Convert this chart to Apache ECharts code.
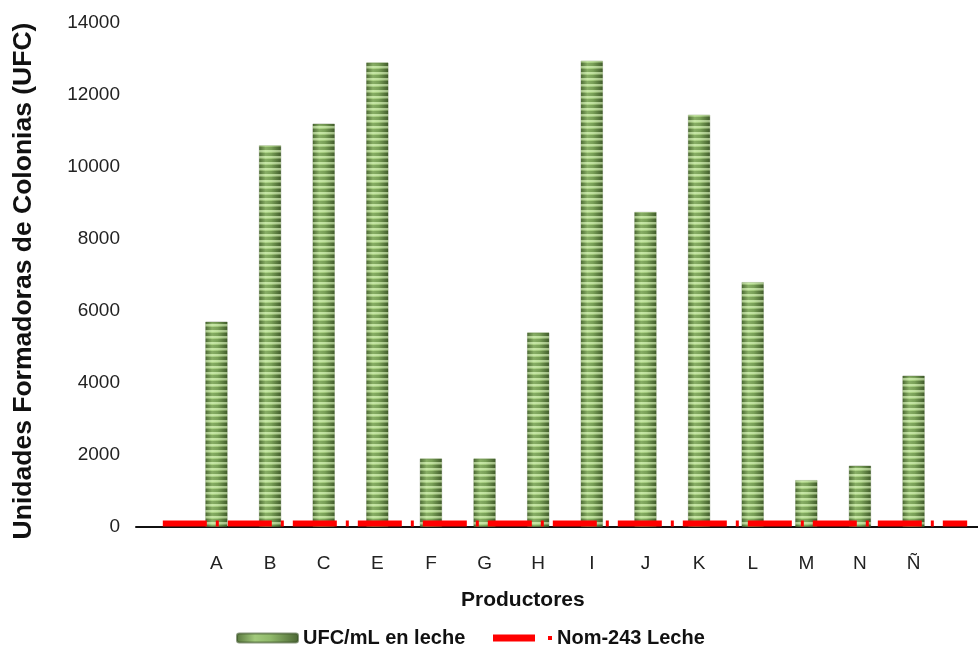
<!DOCTYPE html>
<html>
<head>
<meta charset="utf-8">
<script src="https://cdn.jsdelivr.net/npm/echarts@6/dist/echarts.min.js"></script>
<style>
  html, body { margin: 0; padding: 0; background: #ffffff; overflow: hidden; }
  #chart { width: 994px; height: 652px; }
</style>
</head>
<body>
<div id="chart"></div>
<script>
// Producers (empty slots pad both ends of the axis)
var productores = ['', 'A', 'B', 'C', 'E', 'F', 'G', 'H', 'I', 'J', 'K', 'L', 'M', 'N', 'Ñ', ''];
// Colony forming units per mL of milk for each producer
var ufcLeche = [null, 5700, 10600, 11200, 12900, 1900, 1900, 5400, 12950, 8750, 11450, 6800, 1300, 1700, 4200, null];
// NOM-243 reference limit for milk
var nom243 = [100, 100, 100, 100, 100, 100, 100, 100, 100, 100, 100, 100, 100, 100, 100, 100];
// Y axis scale
var yMin = 0, yMax = 14000, yStep = 2000;

var FONT = '"Liberation Sans", Arial, sans-serif';

// Horizontal stripe texture laid over the bars
function stripeCanvas() {
  var c = document.createElement('canvas');
  c.width = 8; c.height = 6;
  var g = c.getContext('2d');
  g.fillStyle = 'rgba(230,255,200,0.55)';
  g.fillRect(0, 0, 8, 2);
  g.fillStyle = 'rgba(210,245,170,0.25)';
  g.fillRect(0, 2, 8, 1);
  g.fillStyle = 'rgba(30,60,10,0.20)';
  g.fillRect(0, 3, 8, 3);
  return c;
}

var barGradient = {
  type: 'linear', x: 0, y: 0, x2: 1, y2: 0,
  colorStops: [
    { offset: 0, color: '#58763e' },
    { offset: 0.3, color: '#a2ca7c' },
    { offset: 0.55, color: '#90b96b' },
    { offset: 1, color: '#4a6533' }
  ]
};

var chart = echarts.init(document.getElementById('chart'), null, { renderer: 'canvas' });

chart.setOption({
  backgroundColor: '#ffffff',
  animation: false,
  grid: { left: 136, top: 23, right: 0, height: 504, containLabel: false },
  xAxis: {
    type: 'category',
    data: productores,
    boundaryGap: true,
    axisLine: { show: true, lineStyle: { color: '#111', width: 2 } },
    axisTick: { show: false },
    axisLabel: { color: '#222', fontFamily: FONT, fontSize: 19, margin: 27, interval: 0 },
    splitLine: { show: false }
  },
  yAxis: {
    type: 'value',
    min: yMin, max: yMax, interval: yStep,
    axisLine: { show: false },
    axisTick: { show: false },
    axisLabel: {
      color: '#222', fontFamily: FONT, fontSize: 19, margin: 16,
      formatter: function (v) { return String(v); }
    },
    splitLine: { show: false }
  },
  legend: [
    {
      data: ['UFC/mL en leche'],
      left: 236, top: 628, padding: 0,
      itemWidth: 61, itemHeight: 9, itemGap: 6,
      textStyle: { color: '#111', fontFamily: FONT, fontSize: 20, fontWeight: 'bold' }
    },
    {
      data: [{ name: 'Nom-243 Leche', icon: 'path://M0,0H42V7H0Z M55,1.5H59V5.5H55Z' }],
      left: 493, top: 628, padding: 0,
      itemWidth: 59, itemHeight: 7, itemGap: 8,
      textStyle: { color: '#111', fontFamily: FONT, fontSize: 20, fontWeight: 'bold' }
    }
  ],
  graphic: [
    {
      type: 'text',
      x: 24, y: 281,
      rotation: Math.PI / 2,
      style: {
        text: 'Unidades Formadoras de Colonias (UFC)',
        fill: '#111', font: 'bold 26.5px ' + FONT,
        align: 'center', verticalAlign: 'middle'
      }
    },
    {
      type: 'text', left: 461, top: 590,
      style: { text: 'Productores', fill: '#111', font: 'bold 21px ' + FONT }
    }
  ],
  series: [
    {
      name: 'UFC/mL en leche',
      type: 'bar',
      data: ufcLeche,
      barWidth: 22,
      z: 2,
      itemStyle: { color: barGradient, borderColor: 'rgba(60,85,40,0.6)', borderWidth: 0.5 }
    },
    {
      name: 'stripes',
      type: 'bar',
      data: ufcLeche,
      barWidth: 22,
      barGap: '-100%',
      z: 3,
      silent: true,
      itemStyle: { color: { image: stripeCanvas(), repeat: 'repeat' } }
    },
    {
      name: 'Nom-243 Leche',
      type: 'line',
      data: nom243,
      symbol: 'none',
      z: 5,
      itemStyle: { color: '#ff0000' },
      lineStyle: { color: '#ff0000', width: 6, type: [44, 9, 3, 9], cap: 'butt' }
    }
  ]
});
</script>
</body>
</html>
